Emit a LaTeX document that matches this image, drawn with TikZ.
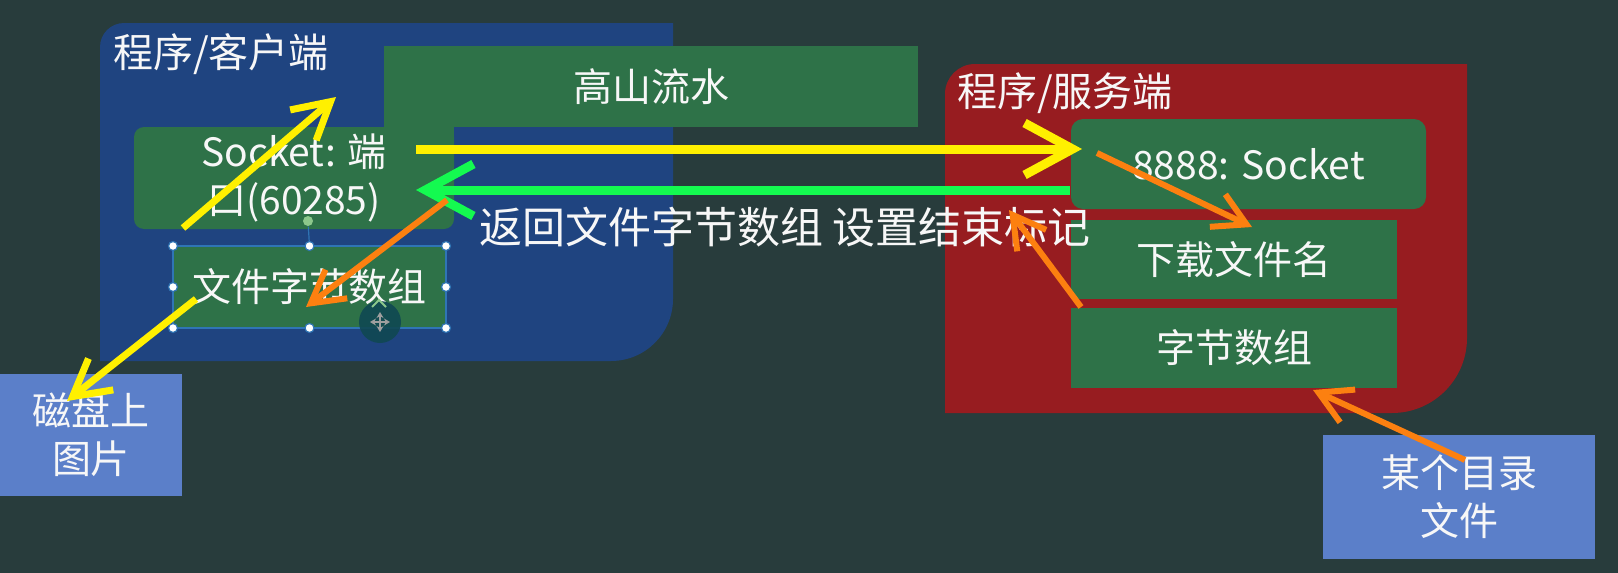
\documentclass[tikz,border=0pt]{standalone}
\usepackage{fontspec}
\setmainfont{Noto Sans CJK SC}
\usetikzlibrary{positioning,calc,arrows.meta}

\definecolor{bgc}{RGB}{40,60,60}
\definecolor{cliblue}{RGB}{31,68,128}
\definecolor{srvred}{RGB}{151,28,32}
\definecolor{boxgreen}{RGB}{46,114,72}
\definecolor{fileblue}{RGB}{91,127,201}
\definecolor{yel}{RGB}{255,240,0}
\definecolor{grn}{RGB}{20,250,80}
\definecolor{org}{RGB}{252,128,16}
\definecolor{selblue}{RGB}{47,117,181}
\definecolor{curteal}{RGB}{16,72,82}
\definecolor{rotgreen}{RGB}{140,200,140}

\begin{document}
\begin{tikzpicture}[x=0.5pt, y=-0.5pt,
    txt/.style={text=white!94!gray, font=\fontsize{19.5pt}{24pt}\selectfont, align=center, inner sep=0pt},
    gbox/.style={txt, fill=boxgreen, outer sep=0pt},
    fbox/.style={txt, fill=fileblue, outer sep=0pt},
    lbl/.style={txt, font=\fontsize{20pt}{24pt}\selectfont},
    hdl/.style={circle, fill=white, draw=selblue, line width=0.6pt, minimum size=4.5pt, inner sep=0pt},
    yarr/.style={draw=yel, line width=4.5pt, -{Straight Barb[length=24pt,width=26pt]}},
    garr/.style={draw=grn, line width=4.5pt, -{Straight Barb[length=24pt,width=26pt]}},
    ydiag/.style={draw=yel, line width=3.5pt, -{Straight Barb[length=18pt,width=20pt]}},
    oarr/.style={draw=org, line width=3pt, -{Straight Barb[length=16pt,width=18pt]}}
]
    \fill[bgc] (0,0) rectangle (1618,573);
    \useasboundingbox (0,0) rectangle (1618,573);

    % client and server areas
    \fill[cliblue] (100,361) -- (100,47) arc[start angle=180, end angle=270, radius=24]
        -- (673,23) -- (673,299) arc[start angle=0, end angle=90, radius=62] -- cycle;
    \fill[srvred] (945,413) -- (945,94) arc[start angle=180, end angle=270, radius=30]
        -- (1467,64) -- (1467,338) arc[start angle=0, end angle=90, radius=75] -- cycle;

    \node[lbl] (clilbl) at (221,54) {程序/客户端};
    \node[lbl] (srvlbl) at (1065,93) {程序/服务端};

    \node[gbox, rounded corners=5pt, minimum width=160pt, minimum height=51pt] (clisock) at (294,178) {Socket: 端\\口(60285)};
    \fill[boxgreen] ($(clisock.north east)+(-20,0)$) rectangle ($(clisock.north east)+(0,20)$);
    \node[gbox, minimum width=267pt, minimum height=40.5pt] (song) at (651,86.5) {高山流水};

    \node[gbox, draw=selblue, line width=0.8pt, minimum width=136.5pt, minimum height=41pt] (clifile) at (309.5,287) {文件字节数组};
    \foreach \a [count=\i] in {north west, north, north east, west, east, south west, south, south east}
        \node[hdl] (hdl\i) at (clifile.\a) {};
    \node[hdl, fill=rotgreen, draw=none, minimum size=5pt] (hdlrot) at (308,221) {};
    \draw[selblue, line width=0.6pt] (hdlrot) -- (hdl2);

    \node[gbox, rounded corners=6pt, minimum width=177.5pt, minimum height=45pt] (srvsock) at (1248.5,164) {8888: Socket};
    \node[gbox, minimum width=163pt, minimum height=39.5pt, below right=5.5pt and 0pt of srvsock.south west] (srvname) {下载文件名};
    \node[gbox, minimum width=163pt, minimum height=40pt, below=4.5pt of srvname] (srvbytes) {字节数组};

    \node[fbox, minimum width=91pt, minimum height=61pt] (disk) at (91,435) {磁盘上\\图片};
    \node[fbox, minimum width=136pt, minimum height=62pt] (dirfile) at (1459,497) {某个目录\\文件};

    \node[txt, font=\fontsize{21.5pt}{24pt}\selectfont] (retlbl) at (785,227) {返回文件字节数组 设置结束标记};

    \coordinate (cliup) at (336,97);
    \coordinate (retmark) at (1009,210);

    \draw[yarr] ($(clisock.east)+(-38,-29)$) -- ($(srvsock.west)+(11,-15)$);
    \draw[garr] ($(srvsock.south west)+(-1,-19)$) -- ($(clisock.east)+(-38,12)$);
    \draw[ydiag] ($(clisock.south west)+(49,-1)$) -- (cliup);
    \draw[ydiag] ($(clifile.west)+(23,12)$) -- ($(disk.north)+(-24,27)$);
    \draw[oarr] ($(clisock.south east)+(-7,-29)$) -- ($(clifile.center)+(-3.5,20)$);
    \draw[oarr] ($(srvsock.west)+(26,-11)$) -- ($(srvname.north)+(18,7)$);
    \draw[oarr] ($(srvbytes.north west)+(10,-1)$) -- (retmark);
    \draw[oarr] ($(dirfile.center)+(6,-37)$) -- ($(srvbytes.south)+(79,2)$);

    % drag cursor
    \node[circle, fill=curteal, fill opacity=0.9, minimum size=21pt, inner sep=0pt] (mvcur) at (380,322) {};
    \draw[rotgreen, line width=1pt] ($(mvcur.center)+(-8,-15)$) -- ($(mvcur.center)+(-1,-22)$) -- ($(mvcur.center)+(6,-15)$);
    \foreach \d in {0,90,180,270}
        \draw[gray!75, line width=1pt, -{Stealth[length=3pt,width=3.5pt]}] (mvcur.center) -- ++(\d:10);
\end{tikzpicture}
\end{document}
